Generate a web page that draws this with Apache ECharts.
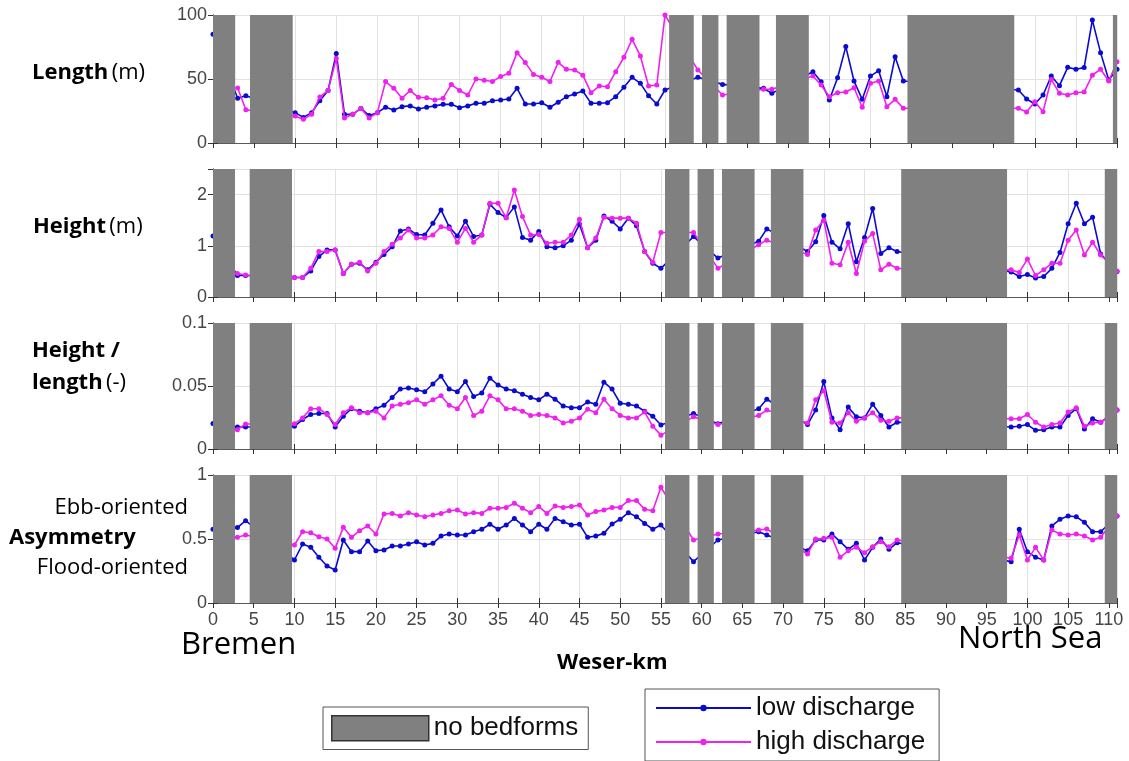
<!DOCTYPE html>
<html><head><meta charset="utf-8">
<script src="https://cdn.jsdelivr.net/npm/echarts/dist/echarts.min.js"></script>
<style>html,body{margin:0;padding:0;background:#fff}#c{width:1129px;height:761px}</style>
</head><body><div id="c"></div><script>
// Weser-km positions of visible samples (panels 2-4); panel 1 ends at km 110
const km = [0,3,4,10,11,12,13,14,15,16,17,18,19,20,21,22,23,24,25,26,27,28,29,30,31,32,33,34,35,36,37,38,39,40,41,42,43,44,45,46,47,48,49,50,51,52,53,54,55,59,62,67,68,73,74,75,76,77,78,79,80,81,82,83,84,98,99,100,101,102,103,104,105,106,107,108,109,111];
const kmLength = [0,3,4,10,11,12,13,14,15,16,17,18,19,20,21,22,23,24,25,26,27,28,29,30,31,32,33,34,35,36,37,38,39,40,41,42,43,44,45,46,47,48,49,50,51,52,53,54,55,59,62,67,68,73,74,75,76,77,78,79,80,81,82,83,84,98,99,100,101,102,103,104,105,106,107,108,109,110];

// no-bedform stretches [from, to] (km)
const noBedforms = [[0,2.7],[4.5,9.7],[55.5,58.5],[59.5,61.5],[62.5,66.5],[68.5,72.5],[84.5,97.5],[109.5,111]];

const xTicks = [0,5,10,15,20,25,30,35,40,45,50,55,60,65,70,75,80,85,90,95,100,105,110];

const lengthLow = [85,35,37,23.7,20,23.7,33,41,70,22.4,22.4,27,21.4,23.7,27.9,25.8,28.4,29,26.6,27.9,29,30.2,30.2,27.6,29,31,31,33,33.6,34.4,42.7,30.5,30.5,31.5,27.9,31.8,36.2,38.3,40.6,31,31,31.5,36.2,43.5,51.3,46.6,37,30.5,41.4,51.3,45.8,42.7,38.8,55.7,47.9,33.6,51,75.3,48.4,34.1,52.3,56.5,36.2,67.4,48.4,41.4,34.4,30.5,37.5,52.3,44.8,59.1,57.6,58.9,96,70.6,49.2,57.6];
const lengthHigh = [null,43,26,21,18.5,22.4,36,41,66,19.5,22.4,27,19.5,23.7,48,42.7,35,41,35.7,35.4,33.6,35,45.8,41,37.5,50,49,48,52,54.4,70.6,62.8,53.6,51.3,48,63,57.6,57,53,39.3,44.5,44,55.7,67,81,68,44.5,45.3,100,57,37.5,42,42,52.3,45.3,36.2,39.3,39.8,43.2,27.9,46.6,48.4,28.4,34.1,27.1,27.1,24.2,32.3,24.5,49.7,38.8,37.5,39.3,39.8,53,57.6,48.4,63.5];

const heightLow = [1.19,0.42,0.42,0.38,0.38,0.51,0.79,0.92,0.92,0.46,0.64,0.66,0.53,0.68,0.83,0.98,1.29,1.33,1.22,1.21,1.44,1.70,1.37,1.19,1.48,1.18,1.21,1.81,1.65,1.55,1.76,1.16,1.11,1.28,0.98,0.96,1.0,1.11,1.42,0.96,1.11,1.58,1.48,1.33,1.54,1.39,0.89,0.66,0.56,1.18,0.76,1.09,1.33,0.89,1.08,1.59,1.07,0.94,1.43,0.69,1.16,1.73,0.85,0.96,0.89,0.49,0.40,0.44,0.37,0.40,0.56,0.87,1.43,1.83,1.43,1.56,0.84,0.5];
const heightHigh = [null,0.46,0.43,0.38,0.38,0.56,0.89,0.89,0.92,0.46,0.64,0.68,0.51,0.66,0.89,1.03,1.15,1.31,1.15,1.15,1.21,1.37,1.34,1.07,1.34,1.07,1.21,1.83,1.83,1.55,2.09,1.57,1.21,1.22,1.05,1.07,1.07,1.21,1.52,0.96,1.15,1.56,1.54,1.54,1.54,1.44,0.89,0.68,1.26,1.26,0.56,1.02,1.11,0.83,1.31,1.50,0.66,0.63,1.07,0.46,1.09,1.24,0.53,0.64,0.56,0.53,0.48,0.74,0.42,0.53,0.66,0.66,1.11,1.31,0.82,1.07,0.82,0.51];

const ratioLow = [0.0202,0.0175,0.0175,0.018,0.0234,0.0274,0.0282,0.0282,0.0175,0.026,0.032,0.030,0.0288,0.032,0.0347,0.0409,0.0476,0.0484,0.047,0.0454,0.0516,0.0578,0.0476,0.0454,0.0535,0.0417,0.0444,0.0562,0.0508,0.0476,0.0462,0.0435,0.0409,0.039,0.0435,0.0395,0.0341,0.0328,0.0328,0.0374,0.0355,0.053,0.0476,0.0363,0.0355,0.0341,0.030,0.026,0.019,0.0282,0.020,0.032,0.0395,0.0194,0.0309,0.0535,0.0247,0.0153,0.0333,0.0255,0.0247,0.0355,0.0266,0.0175,0.0212,0.0175,0.018,0.0194,0.0148,0.0153,0.0175,0.0175,0.0266,0.032,0.0159,0.024,0.0212,0.031];
const ratioHigh = [null,0.0153,0.0199,0.020,0.0247,0.032,0.032,0.0274,0.0194,0.0288,0.0328,0.0288,0.0288,0.030,0.0247,0.0341,0.0355,0.0368,0.039,0.0355,0.039,0.0422,0.0347,0.032,0.0409,0.0266,0.030,0.0422,0.039,0.032,0.032,0.030,0.0266,0.0274,0.0266,0.0247,0.0207,0.022,0.0247,0.0315,0.0288,0.0395,0.032,0.0266,0.0247,0.0247,0.0293,0.018,0.011,0.0255,0.0194,0.0266,0.0309,0.0207,0.039,0.0462,0.0212,0.0207,0.0288,0.022,0.0247,0.0288,0.0228,0.022,0.0247,0.024,0.024,0.0274,0.0212,0.0175,0.0194,0.0207,0.0293,0.0328,0.018,0.0207,0.0212,0.0309];

const asymLow = [0.576,0.589,0.643,0.336,0.461,0.435,0.357,0.289,0.258,0.492,0.401,0.401,0.484,0.409,0.414,0.445,0.445,0.461,0.479,0.453,0.466,0.523,0.539,0.531,0.531,0.557,0.576,0.615,0.576,0.609,0.661,0.609,0.557,0.615,0.576,0.661,0.635,0.609,0.615,0.513,0.523,0.544,0.617,0.654,0.706,0.674,0.622,0.576,0.609,0.323,0.492,0.557,0.531,0.409,0.492,0.492,0.539,0.479,0.419,0.466,0.336,0.435,0.5,0.419,0.471,0.323,0.576,0.401,0.357,0.336,0.602,0.654,0.68,0.674,0.63,0.557,0.557,0.68];
const asymHigh = [null,0.513,0.531,0.453,0.557,0.549,0.518,0.5,0.427,0.591,0.513,0.565,0.602,0.539,0.695,0.7,0.68,0.706,0.688,0.674,0.688,0.7,0.721,0.727,0.695,0.706,0.7,0.74,0.74,0.747,0.779,0.74,0.706,0.753,0.7,0.758,0.747,0.753,0.766,0.688,0.714,0.727,0.747,0.747,0.8,0.8,0.732,0.721,0.904,0.492,0.539,0.57,0.578,0.383,0.5,0.505,0.513,0.357,0.409,0.435,0.393,0.44,0.479,0.44,0.492,0.349,0.531,0.336,0.435,0.336,0.57,0.539,0.531,0.539,0.523,0.492,0.513,0.68];

const BLUE = '#0a0ad2', MAG = '#f020ee', GREY = '#808080', FRAME = '#5a5a5a';
const panels = [
  {xs: kmLength, low: lengthLow, high: lengthHigh, yMax: 100, yInt: 50, xMax: 110, top: 15, h: 128},
  {xs: km, low: heightLow, high: heightHigh, yMax: 2.5, yInt: 1, xMax: 111, top: 169, h: 128},
  {xs: km, low: ratioLow, high: ratioHigh, yMax: 0.1, yInt: 0.05, xMax: 111, top: 323, h: 126},
  {xs: km, low: asymLow, high: asymHigh, yMax: 1, yInt: 0.5, xMax: 111, top: 475, h: 128}
];

const grid = [], xAxis = [], yAxis = [], series = [];
const tickFont = {fontFamily: 'Liberation Sans, Arial, sans-serif', fontSize: 18, color: '#454545'};
panels.forEach((p, i) => {
  grid.push({left: 213, top: p.top, width: 904, height: p.h});
  const xBase = {gridIndex: i, type: 'value', min: 0, max: p.xMax, interval: 5,
    axisLine: {show: true, lineStyle: {color: FRAME, width: 1}},
    axisTick: {show: true, inside: true, length: 5, lineStyle: {color: '#333'}}};
  xAxis.push(Object.assign({}, xBase, {position: 'bottom',
    axisLabel: {show: i === 3, margin: 8, ...tickFont,
      formatter: v => (xTicks.indexOf(v) >= 0 ? String(v) : '')},
    splitLine: {show: true, lineStyle: {color: '#e2e2e2', width: 1}}}));
  xAxis.push(Object.assign({}, xBase, {position: 'top', axisLabel: {show: false}, splitLine: {show: false}}));
  const yBase = {gridIndex: i, type: 'value', min: 0, max: p.yMax, interval: p.yInt,
    axisLine: {show: true, lineStyle: {color: FRAME, width: 1}},
    axisTick: {show: true, inside: true, length: 5, lineStyle: {color: '#333'}}};
  yAxis.push(Object.assign({}, yBase, {position: 'left',
    axisLabel: {show: true, margin: 6, ...tickFont,
      formatter: v => (Math.abs(v / p.yInt - Math.round(v / p.yInt)) < 1e-6 ? String(+v.toFixed(3)) : '')},
    splitLine: {show: true, lineStyle: {color: '#e2e2e2', width: 1}}}));
  yAxis.push(Object.assign({}, yBase, {position: 'right', axisLabel: {show: false}, splitLine: {show: false}}));
  const xi = 2 * i;
  const toPts = arr => p.xs.map((k, j) => [k, arr[j]]).filter(d => d[1] !== null);
  series.push({name: 'low discharge', type: 'line', xAxisIndex: xi, yAxisIndex: xi, data: toPts(p.low),
    symbol: 'circle', symbolSize: 5, showAllSymbol: true, connectNulls: true, clip: true,
    itemStyle: {color: BLUE}, lineStyle: {color: BLUE, width: 1.6}, z: 2, animation: false});
  series.push({name: 'high discharge', type: 'line', xAxisIndex: xi, yAxisIndex: xi, data: toPts(p.high),
    symbol: 'circle', symbolSize: 5, showAllSymbol: true, connectNulls: true, clip: true,
    itemStyle: {color: MAG}, lineStyle: {color: MAG, width: 1.6}, z: 3, animation: false});
  series.push({name: 'no bedforms', type: 'custom', xAxisIndex: xi, yAxisIndex: xi, data: noBedforms,
    encode: {x: [0, 1]}, z: 5, animation: false, itemStyle: {color: GREY},
    renderItem: (params, api) => {
      const a = api.coord([api.value(0), p.yMax]);
      const b = api.coord([api.value(1), 0]);
      const cs = params.coordSys;
      const shape = echarts.graphic.clipRectByRect(
        {x: a[0], y: a[1], width: b[0] - a[0], height: b[1] - a[1]},
        {x: cs.x, y: cs.y, width: cs.width, height: cs.height});
      return shape && {type: 'rect', shape: shape, style: {fill: GREY}};
    }});
});

const lab = 'Open Sans, Noto Sans, sans-serif';
const graphic = [
  {type: 'text', left: 32, top: 62, style: {text: '{b|Length} {r|(m)}', rich: {b: {fontFamily: lab, fontWeight: 'bold', fontSize: 22, fill: '#000'}, r: {fontFamily: lab, fontSize: 22, fill: '#000'}}}},
  {type: 'text', left: 33, top: 216, style: {text: '{b|Height} {r|(m)}', rich: {b: {fontFamily: lab, fontWeight: 'bold', fontSize: 22, fill: '#000'}, r: {fontFamily: lab, fontSize: 22, fill: '#000'}}}},
  {type: 'text', left: 32, top: 340, style: {text: '{b|Height /}', rich: {b: {fontFamily: lab, fontWeight: 'bold', fontSize: 22, fill: '#000'}}}},
  {type: 'text', left: 32, top: 372, style: {text: '{b|length} {r|(-)}', rich: {b: {fontFamily: lab, fontWeight: 'bold', fontSize: 22, fill: '#000'}, r: {fontFamily: lab, fontSize: 22, fill: '#000'}}}},
  {type: 'text', right: 1129 - 188, top: 497, style: {text: 'Ebb-oriented', fontFamily: lab, fontSize: 22, fill: '#000'}},
  {type: 'text', left: 9, top: 527, style: {text: 'Asymmetry', fontFamily: lab, fontWeight: 'bold', fontSize: 22, fill: '#000'}},
  {type: 'text', right: 1129 - 188, top: 557, style: {text: 'Flood-oriented', fontFamily: lab, fontSize: 22, fill: '#000'}},
  {type: 'text', left: 557, top: 652, style: {text: 'Weser-km', fontFamily: lab, fontWeight: 'bold', fontSize: 22, fill: '#000'}},
  {type: 'text', left: 181, top: 630, style: {text: 'Bremen', fontFamily: lab, fontSize: 31, fill: '#000'}},
  {type: 'text', left: 958, top: 624, style: {text: 'North Sea', fontFamily: lab, fontSize: 31, fill: '#000'}}
];

const legFont = {fontFamily: 'Liberation Sans, Arial, sans-serif', fontSize: 26, color: '#111'};
const option = {
  backgroundColor: '#fff',
  animation: false,
  grid, xAxis, yAxis, series, graphic,
  legend: [
    {data: ['low discharge', 'high discharge'], orient: 'vertical', left: 645, top: 689,
     itemWidth: 95, itemHeight: 8, itemGap: 8, padding: [6, 14, 6, 10], selectedMode: false,
     borderColor: '#555', borderWidth: 1, backgroundColor: '#fff', textStyle: legFont},
    {data: [{name: 'no bedforms', icon: 'rect', itemStyle: {color: GREY, borderColor: '#333', borderWidth: 1.5}}],
     left: 323, top: 707, itemWidth: 97, itemHeight: 25, padding: [8, 10, 8, 8], selectedMode: false,
     borderColor: '#555', borderWidth: 1, backgroundColor: '#fff', textStyle: legFont}
  ]
};
const chart = echarts.init(document.getElementById('c'), null, {renderer: 'canvas'});
chart.setOption(option);
</script></body></html>
